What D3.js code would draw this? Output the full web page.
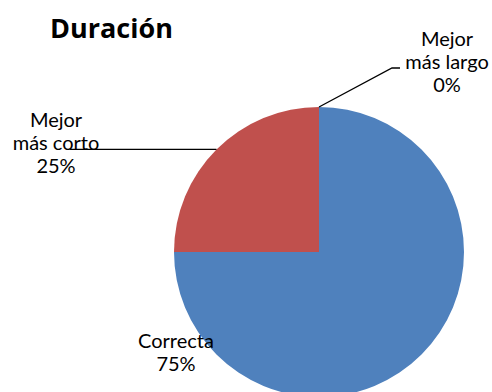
<!DOCTYPE html>
<html>
<head>
<meta charset="utf-8">
<script src="https://cdn.jsdelivr.net/npm/d3@7"></script>
<style>
  html, body { margin: 0; padding: 0; background: #fff; }
  svg { display: block; }
  text { font-family: Lato, "Open Sans", sans-serif; fill: #000; }
</style>
</head>
<body>
<script>
// Chart data
const categories = ["Correcta", "Mejor más corto", "Mejor más largo"];
const labelLines = [["Correcta"], ["Mejor", "más corto"], ["Mejor", "más largo"]];
const values = [75, 25, 0];
const colors = ["#4F81BD", "#C0504D", "#9BBB59"];
const title = "Duración";

const W = 492, H = 392;
const cx = 319, cy = 252, R = 145;

const svg = d3.select("body").append("svg")
  .attr("width", W).attr("height", H);

svg.append("text")
  .attr("x", 50).attr("y", 38)
  .style("font-family", "'Open Sans', sans-serif")
  .attr("font-size", 27).attr("font-weight", "bold")
  .text(title);

const pie = d3.pie().sort(null).value(d => d)
  .startAngle(0).endAngle(2 * Math.PI);
const arcs = pie(values);
const arc = d3.arc().innerRadius(0).outerRadius(R);

const g = svg.append("g").attr("transform", `translate(${cx},${cy})`);
g.selectAll("path.slice").data(arcs).enter().append("path")
  .attr("class", "slice")
  .attr("d", arc)
  .attr("fill", (d, i) => colors[i]);

const total = d3.sum(values);
const pct = v => Math.round(v / total * 100) + "%";

// Label placement (centre x, first-line baseline y, in page coordinates)
const labelPos = [
  { x: 176, y: 348, leader: null },
  { x: 56, y: 127, leader: "left" },
  { x: 447, y: 46, leader: "right" }
];
const lineH = 23;

arcs.forEach((a, i) => {
  const p = labelPos[i];
  const lines = labelLines[i].concat([pct(values[i])]);
  const t = svg.append("text")
    .attr("text-anchor", "middle")
    .attr("font-size", 20);
  lines.forEach((s, k) => {
    t.append("tspan").attr("x", p.x).attr("y", p.y + k * lineH).text(s);
  });

  if (p.leader) {
    const mid = (a.startAngle + a.endAngle) / 2;
    const ax = cx + R * Math.sin(mid);
    const ay = cy - R * Math.cos(mid);
    let pts;
    if (p.leader === "left") {
      pts = [[ax, ay], [70, ay]];
    } else {
      const ly = p.y + 22;
      pts = [[ax, ay], [392, ly], [400, ly]];
    }
    svg.append("path")
      .attr("d", d3.line()(pts))
      .attr("fill", "none")
      .attr("stroke", "#000")
      .attr("stroke-width", 1.3);
  }
});
</script>
</body>
</html>
